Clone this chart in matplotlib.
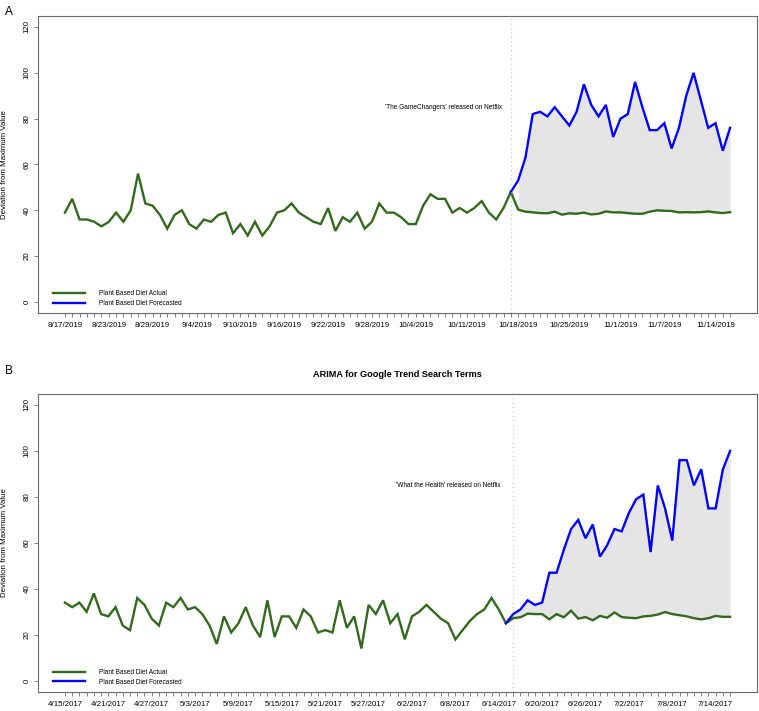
import pandas as pd
import matplotlib
matplotlib.use("Agg")
import matplotlib.pyplot as plt

plt.rcParams['font.family'] = ['Liberation Sans', 'DejaVu Sans']

GREEN = '#33691e'
BLUE = '#0000ff'
FILL = '#e5e5e5'
FRAME = '#6a6a6a'

# Panel A: 'The GameChangers' (daily search interest from 8/17/2019)
a_start = '2019-08-17'
a_actual = [39, 45, 36, 36, 35, 33, 35, 39, 35, 40, 56, 43, 42, 38, 32, 38,
            40, 34, 32, 36, 35, 38, 39, 30, 34, 29, 35, 29, 33, 39, 40, 43,
            39, 37, 35, 34, 41, 31, 37, 35, 39, 32, 35, 43, 39, 39, 37, 34,
            34, 42, 47, 45, 45, 39, 41, 39, 41, 44, 39, 36, 41, 48,
            40.3, 39.4, 39.1, 38.8, 38.7, 39.4, 38.1, 38.7, 38.5, 39.0,
            38.2, 38.5, 39.5, 39.1, 39.1, 38.8, 38.5, 38.5, 39.4, 40.0,
            39.8, 39.7, 39.1, 39.2, 39.1, 39.2, 39.5, 39.1, 38.8, 39.2]
a_forecast = [48, 53, 63, 82, 83, 81, 85, 81, 77, 83, 95, 86, 81, 86, 72, 80,
              82, 96, 85, 75, 75, 78, 67, 76, 90, 100, 88, 76, 78, 66, 76]
a_release = '2019-10-17'
a_note = "'The GameChangers' released on Netflix"
a_tick_labels = ['8/17/2019', '8/23/2019', '8/29/2019', '9/4/2019', '9/10/2019',
                 '9/16/2019', '9/22/2019', '9/28/2019', '10/4/2019', '10/11/2019',
                 '10/18/2019', '10/25/2019', '11/1/2019', '11/7/2019', '11/14/2019']

# Panel B: 'What the Health' (daily search interest from 4/15/2017)
b_start = '2017-04-15'
b_actual = [34, 32, 34, 30, 38, 29, 28, 32, 24, 22, 36, 33, 27, 24, 34, 32,
            36, 31, 32, 29, 24, 16, 28, 21, 25, 32, 24, 19, 35, 19, 28, 28,
            23, 31, 28, 21, 22, 21, 35, 23, 28, 14, 33, 29, 35, 25, 29, 18,
            28, 30, 33, 30, 27, 25, 18, 22, 26, 29, 31, 36, 31, 25,
            27.2, 27.6, 29.2, 29.0, 29.0, 26.7, 29.0, 27.6, 30.5, 27.0,
            27.7, 26.3, 28.2, 27.4, 29.7, 27.7, 27.4, 27.2, 28.0, 28.2,
            28.8, 29.9, 29.0, 28.5, 28.0, 27.2, 26.7, 27.2, 28.2, 27.8, 27.8]
b_forecast = [25, 29, 31, 35, 33, 34, 47, 47, 57, 66, 70, 62, 68, 54, 59, 66,
              65, 73, 79, 81, 56, 85, 75, 61, 96, 96, 85, 92, 75, 75, 92, 100]
b_release = '2017-06-16'
b_note = "'What the Health' released on Netflix"
b_tick_labels = ['4/15/2017', '4/21/2017', '4/27/2017', '5/3/2017', '5/9/2017',
                 '5/15/2017', '5/21/2017', '5/27/2017', '6/2/2017', '6/8/2017',
                 '6/14/2017', '6/20/2017', '6/26/2017', '7/2/2017', '7/8/2017',
                 '7/14/2017']


def draw_panel(ax, start, actual, forecast, release, note, tick_labels, note_dx):
    dates = pd.date_range(start, periods=len(actual), freq='D')
    names = [f"{d.month}/{d.day}/{d.year}" for d in dates]
    x = list(range(len(actual)))
    split = len(actual) - len(forecast)
    xf = x[split:]

    # shaded gap between forecast and actual
    ax.fill_between(xf[1:], actual[split + 1:], forecast[1:], color=FILL, lw=0)
    ax.plot(x, actual, color=GREEN, lw=1.7, solid_joinstyle='miter',
            label='Plant Based Diet Actual')
    ax.plot(xf, forecast, color=BLUE, lw=1.7, solid_joinstyle='miter',
            label='Plant Based Diet Forecasted')

    rel = names.index(f"{pd.Timestamp(release).month}/{pd.Timestamp(release).day}/"
                      f"{pd.Timestamp(release).year}")
    ax.axvline(rel, color='#bdbdbd', lw=0.8, ls=(0, (1, 3)))
    ax.annotate(note, xy=(rel, 85), xytext=(note_dx, 0), textcoords='offset points',
                ha='right', va='center', fontsize=4.7)

    pad = 0.04 * (len(actual) - 1)
    ax.set_xlim(-pad, len(actual) - 1 + pad)
    ax.set_ylim(-4.8, 124.8)

    ax.set_xticks(x)
    ax.set_xticklabels([n if n in tick_labels else '' for n in names])
    ax.set_yticks(range(0, 121, 20))
    ax.set_yticklabels([str(v) for v in range(0, 121, 20)], rotation=90, va='center')
    ax.tick_params(axis='both', direction='out', length=3.2, width=0.6,
                   color=FRAME, labelsize=5.7, pad=2.5)
    ax.tick_params(axis='x', pad=3.5)
    for s in ax.spines.values():
        s.set_color(FRAME)
        s.set_linewidth(0.8)

    ax.legend(loc='lower left', bbox_to_anchor=(0.02, 0.02), frameon=False,
              fontsize=4.7, handlelength=4.9, handletextpad=2.2,
              labelspacing=0.45, borderpad=0, borderaxespad=0)


fig = plt.figure(figsize=(7.59, 7.11), dpi=100)
ax_a = fig.add_axes([0.0505, 0.5598, 0.9465, 0.4177])
ax_b = fig.add_axes([0.0505, 0.0271, 0.9465, 0.4188])

draw_panel(ax_a, a_start, a_actual, a_forecast, a_release, a_note, a_tick_labels, -6.5)
draw_panel(ax_b, b_start, b_actual, b_forecast, b_release, b_note, b_tick_labels, -9)

ax_b.set_title('ARIMA for Google Trend Search Terms', fontsize=6.6,
               fontweight='bold', pad=12)

for ax in (ax_a, ax_b):
    pos = ax.get_position()
    fig.text(5 / 759, (pos.y0 + pos.y1) / 2, 'Deviation from Maximum Value',
             rotation=90, ha='center', va='center', fontsize=5.7)

fig.text(5 / 759, 1 - 12 / 711, 'A', fontsize=8.5, va='center')
fig.text(5 / 759, 1 - 371 / 711, 'B', fontsize=8.5, va='center')

fig.savefig('out.png', dpi=100)
